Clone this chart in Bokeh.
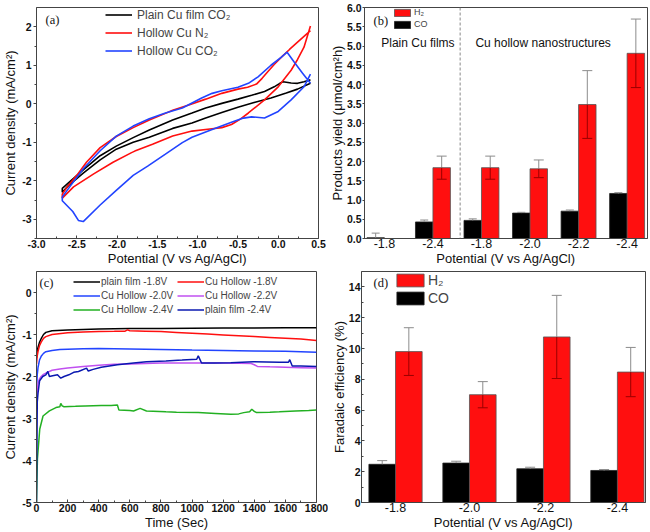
import numpy as np
from bokeh.plotting import figure
from bokeh.models import Range1d, FixedTicker, Legend, LegendItem, Label, Span
from bokeh.layouts import column, row
from bokeh.embed import file_html
from bokeh.resources import INLINE

# ---------------- Panel (a): cyclic voltammograms ----------------
cv_plain_co2_x = [0.40, 0.32, 0.24, 0.16, 0.10, 0.06, 0.02, -0.05, -0.17, -0.33, -0.50, -0.70, -0.90, -1.07,
                  -1.31, -1.60, -1.80, -2.01, -2.21, -2.42, -2.60, -2.68, -2.68, -2.60, -2.42, -2.21, -2.01,
                  -1.80, -1.60, -1.31, -1.07, -0.90, -0.70, -0.50, -0.30, -0.09, 0.10, 0.24, 0.40]
cv_plain_co2_y = [0.62, 0.57, 0.53, 0.54, 0.56, 0.57, 0.53, 0.44, 0.32, 0.22, 0.12, 0.01, -0.11, -0.24,
                  -0.42, -0.68, -0.88, -1.10, -1.35, -1.72, -2.05, -2.20, -2.30, -2.12, -1.80, -1.46, -1.18,
                  -1.00, -0.87, -0.64, -0.50, -0.37, -0.23, -0.09, 0.03, 0.15, 0.28, 0.38, 0.53]

cv_hollow_n2_x = [0.40, 0.32, 0.24, 0.14, 0.04, -0.05, -0.13, -0.20, -0.27, -0.38, -0.50, -0.70, -0.90, -1.11,
                  -1.31, -1.40, -1.60, -1.80, -2.01, -2.21, -2.38, -2.50, -2.62, -2.68, -2.68, -2.54, -2.29,
                  -2.05, -1.82, -1.78, -1.56, -1.31, -1.07, -0.82, -0.70, -0.58, -0.47, -0.37, -0.17, 0.00,
                  0.16, 0.24, 0.32, 0.40]
cv_hollow_n2_y = [1.90, 1.75, 1.60, 1.41, 1.21, 1.02, 0.83, 0.66, 0.51, 0.43, 0.38, 0.27, 0.12, -0.03,
                  -0.17, -0.25, -0.42, -0.62, -0.85, -1.14, -1.52, -1.86, -2.16, -2.35, -2.45, -2.16, -1.82,
                  -1.52, -1.27, -1.23, -1.05, -0.84, -0.71, -0.65, -0.62, -0.54, -0.40, -0.24, 0.10, 0.44,
                  0.87, 1.15, 1.47, 2.02]

cv_hollow_co2_x = [0.40, 0.30, 0.20, 0.11, 0.04, -0.09, -0.25, -0.37, -0.50, -0.70, -0.82, -0.95, -1.07, -1.19,
                   -1.40, -1.60, -1.80, -2.01, -2.21, -2.42, -2.62, -2.68, -2.68, -2.55, -2.48, -2.42, -2.21,
                   -2.01, -1.80, -1.62, -1.40, -1.19, -1.07, -0.82, -0.58, -0.45, -0.33, -0.17, 0.00, 0.16,
                   0.32, 0.40]
cv_hollow_co2_y = [0.53, 0.80, 1.08, 1.34, 1.21, 1.00, 0.70, 0.53, 0.43, 0.34, 0.27, 0.15, 0.02, -0.11,
                   -0.24, -0.39, -0.58, -0.84, -1.22, -1.69, -2.25, -2.42, -2.52, -2.80, -3.03, -3.06, -2.63,
                   -2.25, -1.86, -1.62, -1.31, -1.01, -0.87, -0.67, -0.48, -0.38, -0.34, -0.37, -0.20, 0.10,
                   0.44, 0.77]

a_xticks = [-3.0, -2.5, -2.0, -1.5, -1.0, -0.5, 0.0, 0.5]
a_xtick_labels = ["-3.0", "-2.5", "-2.0", "-1.5", "-1.0", "-0.5", "0.0", "0.5"]
a_xminor = [-2.75, -2.25, -1.75, -1.25, -0.75, -0.25, 0.25]
a_yticks = [-3, -2, -1, 0, 1, 2]
a_ytick_labels = ["-3", "-2", "-1", "0", "1", "2"]
a_yminor = [-3.5, -2.5, -1.5, -0.5, 0.5, 1.5]

# ---------------- Panel (b): product yield ----------------
b_groups = [0, 1, 2, 3, 4, 5]
b_tick_labels = ["-1.8", "-2.4", "-1.8", "-2.0", "-2.2", "-2.4"]
b_co = [0.02, 0.43, 0.47, 0.66, 0.71, 1.17]
b_co_err = [0.12, 0.05, 0.04, 0.02, 0.03, 0.02]
b_h2 = [np.nan, 1.84, 1.84, 1.81, 3.48, 4.81]
b_h2_err = [np.nan, 0.30, 0.30, 0.23, 0.88, 0.89]
b_yticks = [0.0, 0.5, 1.0, 1.5, 2.0, 2.5, 3.0, 3.5, 4.0, 4.5, 5.0, 5.5, 6.0]
b_ytick_labels = ["0.0", "0.5", "1.0", "1.5", "2.0", "2.5", "3.0", "3.5", "4.0", "4.5", "5.0", "5.5", "6.0"]

# ---------------- Panel (c): chronoamperometry ----------------
plain_18_t = [0, 5, 10, 20, 30, 45, 60, 100, 200, 400, 600, 800, 1000, 1200, 1400, 1600, 1800]
plain_18_j = [-1.55, -1.38, -1.30, -1.18, -1.10, -1.00, -0.95, -0.91, -0.89, -0.87, -0.86, -0.855, -0.85,
              -0.845, -0.845, -0.84, -0.84]
hollow_18_t = [0, 5, 10, 20, 30, 45, 60, 100, 200, 300, 400, 500, 570, 585, 600, 700, 800, 900, 1000, 1100,
               1200, 1300, 1400, 1500, 1600, 1700, 1800]
hollow_18_j = [-1.70, -1.50, -1.40, -1.26, -1.18, -1.09, -1.05, -1.00, -0.96, -0.94, -0.93, -0.925, -0.92,
               -0.89, -0.91, -0.92, -0.93, -0.95, -0.97, -0.99, -1.01, -1.03, -1.05, -1.07, -1.09, -1.11, -1.14]
hollow_20_t = [0, 5, 10, 20, 30, 45, 60, 100, 150, 200, 300, 400, 600, 800, 1000, 1200, 1400, 1600, 1800]
hollow_20_j = [-2.30, -1.95, -1.78, -1.60, -1.52, -1.45, -1.41, -1.38, -1.36, -1.35, -1.34, -1.335, -1.345,
               -1.355, -1.37, -1.38, -1.39, -1.40, -1.42]
hollow_22_t = [0, 5, 10, 20, 30, 45, 60, 100, 150, 200, 300, 400, 500, 600, 700, 800, 900, 1000, 1100, 1200,
               1300, 1380, 1400, 1420, 1500, 1600, 1700, 1800]
hollow_22_j = [-2.90, -2.35, -2.16, -2.05, -2.00, -1.95, -1.92, -1.85, -1.82, -1.80, -1.76, -1.73, -1.71, -1.70,
               -1.69, -1.68, -1.68, -1.68, -1.68, -1.68, -1.685, -1.69, -1.72, -1.76, -1.77, -1.78, -1.79, -1.80]
hollow_24_t = [0, 6, 21, 42, 83, 125, 150, 156, 165, 177, 250, 312, 416, 480, 520, 530, 600, 624, 666, 707,
               832, 900, 1040, 1150, 1249, 1300, 1332, 1370, 1384, 1400, 1415, 1500, 1561, 1665, 1750, 1800]
hollow_24_j = [-5.00, -3.96, -3.25, -2.94, -2.82, -2.74, -2.72, -2.64, -2.70, -2.72, -2.71, -2.70, -2.69, -2.69,
               -2.68, -2.80, -2.81, -2.82, -2.76, -2.82, -2.84, -2.85, -2.86, -2.88, -2.90, -2.89, -2.86, -2.84,
               -2.78, -2.83, -2.86, -2.85, -2.84, -2.82, -2.81, -2.80]
plain_24_t = [0, 5, 10, 20, 40, 60, 73, 83, 104, 135, 156, 177, 208, 239, 270, 322, 333, 364, 416, 520, 624,
              707, 832, 936, 1030, 1040, 1061, 1145, 1249, 1394, 1561, 1620, 1628, 1644, 1700, 1800]
plain_24_j = [-5.00, -2.60, -2.39, -2.10, -2.00, -1.96, -1.88, -2.00, -1.98, -1.96, -2.04, -2.00, -1.96, -1.90,
              -1.88, -1.80, -1.87, -1.83, -1.78, -1.72, -1.68, -1.65, -1.63, -1.61, -1.59, -1.51, -1.68, -1.68,
              -1.67, -1.65, -1.66, -1.66, -1.60, -1.75, -1.75, -1.76]
c_xticks = [0, 200, 400, 600, 800, 1000, 1200, 1400, 1600, 1800]
c_xtick_labels = ["0", "200", "400", "600", "800", "1000", "1200", "1400", "1600", "1800"]
c_xminor = [100, 300, 500, 700, 900, 1100, 1300, 1500, 1700]
c_yticks = [-5, -4, -3, -2, -1, 0]
c_ytick_labels = ["-5", "-4", "-3", "-2", "-1", "0"]
c_yminor = [-4.5, -3.5, -2.5, -1.5, -0.5]

# ---------------- Panel (d): Faradaic efficiency ----------------
d_groups = [0, 1, 2, 3]
d_tick_labels = ["-1.8", "-2.0", "-2.2", "-2.4"]
d_co = [2.48, 2.56, 2.19, 2.08]
d_co_err = [0.24, 0.12, 0.10, 0.06]
d_h2 = [9.80, 7.00, 10.75, 8.47]
d_h2_err = [1.55, 0.85, 2.70, 1.60]
d_yticks = [0, 2, 4, 6, 8, 10, 12, 14]
d_ytick_labels = ["0", "2", "4", "6", "8", "10", "12", "14"]
d_yminor = [1, 3, 5, 7, 9, 11, 13]

FONT = "Liberation Sans"
SERIF = "Liberation Serif"
AX = "#444444"
RED = "#ff0f0f"
BLUE = "#2244ff"


def make_fig(width, height, xr, yr, left, right, top, bottom, xlabel, ylabel):
    p = figure(width=width, height=height, x_range=Range1d(*xr), y_range=Range1d(*yr),
               output_backend="svg", toolbar_location=None,
               min_border_left=left, min_border_right=right, min_border_top=top, min_border_bottom=bottom,
               x_axis_label=xlabel, y_axis_label=ylabel)
    p.outline_line_color = AX
    p.outline_line_width = 1
    p.xgrid.visible = False
    p.ygrid.visible = False
    for ax in (p.xaxis[0], p.yaxis[0]):
        ax.axis_line_color = AX
        ax.major_tick_line_color = AX
        ax.minor_tick_line_color = AX
        ax.major_label_text_font = FONT
        ax.major_label_text_font_size = "10.5px"
        ax.major_label_text_font_style = "bold"
        ax.major_label_text_color = "#111111"
        ax.axis_label_text_font = FONT
        ax.axis_label_text_font_size = "13px"
        ax.axis_label_text_font_style = "normal"
        ax.axis_label_text_color = "#111111"
    xa = p.xaxis[0]
    xa.major_tick_in = 3
    xa.major_tick_out = 0
    xa.minor_tick_in = 2
    xa.minor_tick_out = 0
    xa.major_label_standoff = 1
    xa.axis_label_standoff = 0
    ya = p.yaxis[0]
    ya.major_tick_in = 0
    ya.major_tick_out = 3
    ya.minor_tick_in = 0
    ya.minor_tick_out = 2
    ya.major_label_standoff = 2
    ya.axis_label_standoff = 1
    return p


def set_ticks(axis, ticks, labels, minor=None):
    axis.ticker = FixedTicker(ticks=ticks, minor_ticks=minor or [])
    axis.major_label_overrides = {t: l for t, l in zip(ticks, labels)}


def panel_tag(p, text, x, y):
    p.add_layout(Label(x=x, y=y, x_units="screen", y_units="screen", text=text,
                       text_font=SERIF, text_font_size="12.5px", text_baseline="middle",
                       text_color="#111111"))


# ---------------- (a) ----------------
pa = make_fig(326, 268, (-3.0, 0.5), (-3.5, 2.5), 33, 8, 7, 28,
              "Potential (V vs Ag/AgCl)", "Current density (mA/cm²)")
set_ticks(pa.xaxis[0], a_xticks, a_xtick_labels, a_xminor)
set_ticks(pa.yaxis[0], a_yticks, a_ytick_labels, a_yminor)
ra1 = pa.line(cv_plain_co2_x, cv_plain_co2_y, line_color="black", line_width=1.6)
ra2 = pa.line(cv_hollow_n2_x, cv_hollow_n2_y, line_color=RED, line_width=1.6)
ra3 = pa.line(cv_hollow_co2_x, cv_hollow_co2_y, line_color=BLUE, line_width=1.6)
leg_a = Legend(items=[LegendItem(label="Plain Cu film CO₂", renderers=[ra1]),
                      LegendItem(label="Hollow Cu N₂", renderers=[ra2]),
                      LegendItem(label="Hollow Cu CO₂", renderers=[ra3])],
               location=(69, 179), padding=0, margin=0, spacing=1, label_height=17, glyph_height=17,
               glyph_width=27, label_standoff=5, label_text_font=FONT, label_text_font_size="12px",
               background_fill_alpha=0, border_line_alpha=0)
pa.add_layout(leg_a)
panel_tag(pa, "(a)", 9, 219)

# ---------------- (b) ----------------
bw = 0.36
pb = make_fig(324, 268, (-0.41, 5.42), (0, 6.0), 31, 3, 5, 28,
              "Potential (V vs Ag/AgCl)", "Products yield (μmol/cm²h)")
set_ticks(pb.xaxis[0], b_groups, b_tick_labels)
set_ticks(pb.yaxis[0], b_yticks, b_ytick_labels)
pb.xaxis[0].major_tick_in = 0
pb.xaxis[0].minor_tick_in = 0
pb.xaxis[0].major_label_text_font_style = "normal"
pb.xaxis[0].major_label_text_font_size = "12.5px"
pb.xaxis[0].major_label_standoff = 0
pb.yaxis[0].major_tick_out = 2
pb.yaxis[0].major_label_standoff = 1
pb.yaxis[0].axis_label_standoff = -1

pb.add_layout(Span(location=1.56, dimension="height", line_color="#888888", line_dash="3 2", line_width=1))

bg = np.array(b_groups, dtype=float)
bco = np.array(b_co)
bcoe = np.array(b_co_err)
bh = np.array(b_h2)
bhe = np.array(b_h2_err)
x_co = bg - bw / 2
x_h2 = bg + bw / 2
rb_co = pb.vbar(x=x_co, top=bco, width=bw, fill_color="black", line_color="#222222", line_width=0.8)
mask = ~np.isnan(bh)
rb_h2 = pb.vbar(x=x_h2[mask], top=bh[mask], width=bw, fill_color=RED, line_color="#555555", line_width=0.8)
# error bars
pb.segment(x0=x_co, y0=bco, x1=x_co, y1=bco + bcoe, line_color="#8c8c8c", line_width=1)
pb.scatter(x=x_co, y=bco + bcoe, marker="dash", size=8, line_color="#8c8c8c", line_width=1)
pb.segment(x0=x_h2[mask], y0=bh[mask], x1=x_h2[mask], y1=(bh + bhe)[mask], line_color="#8c8c8c", line_width=1)
pb.scatter(x=x_h2[mask], y=(bh + bhe)[mask], marker="dash", size=10, line_color="#8c8c8c", line_width=1)
pb.segment(x0=x_h2[mask], y0=(bh - bhe)[mask], x1=x_h2[mask], y1=bh[mask], line_color="#9a0000", line_width=1)
pb.scatter(x=x_h2[mask], y=(bh - bhe)[mask], marker="dash", size=10, line_color="#9a0000", line_width=1)

leg_b = Legend(items=[LegendItem(label="H₂", renderers=[rb_h2]),
                      LegendItem(label="CO", renderers=[rb_co])],
               location=(28, 209), padding=0, margin=0, spacing=2, label_height=10, glyph_height=9,
               glyph_width=20, label_standoff=2, label_text_font=FONT, label_text_font_size="9px",
               background_fill_alpha=0, border_line_alpha=0)
pb.add_layout(leg_b)
panel_tag(pb, "(b)", 9, 218)
pb.add_layout(Label(x=0.69, y=5.08, text="Plain Cu films", text_font=FONT, text_font_size="12px",
                    text_align="center", text_baseline="middle", text_color="#111111"))
pb.add_layout(Label(x=3.27, y=5.08, text="Cu hollow nanostructures", text_font=FONT, text_font_size="12px",
                    text_align="center", text_baseline="middle", text_color="#111111"))

# ---------------- (c) ----------------
pc = make_fig(328, 264, (0, 1800), (-5, 0.5), 33, 12, 3, 28,
              "Time (Sec)", "Current density (mA/cm²)")
set_ticks(pc.xaxis[0], c_xticks, c_xtick_labels, c_xminor)
set_ticks(pc.yaxis[0], c_yticks, c_ytick_labels, c_yminor)
rc1 = pc.line(plain_18_t, plain_18_j, line_color="black", line_width=1.5)
rc2 = pc.line(hollow_18_t, hollow_18_j, line_color=RED, line_width=1.5)
rc3 = pc.line(hollow_20_t, hollow_20_j, line_color=BLUE, line_width=1.5)
rc4 = pc.line(hollow_22_t, hollow_22_j, line_color="#c050f0", line_width=1.5)
rc5 = pc.line(hollow_24_t, hollow_24_j, line_color="#22b022", line_width=1.5)
rc6 = pc.line(plain_24_t, plain_24_j, line_color="#0a18b0", line_width=1.5)
common_c = dict(padding=0, margin=0, spacing=1, label_height=13, glyph_height=13, glyph_width=27,
                label_standoff=1, label_text_font=FONT, label_text_font_size="10px",
                background_fill_alpha=0, border_line_alpha=0)
leg_c1 = Legend(items=[LegendItem(label="plain film -1.8V", renderers=[rc1]),
                       LegendItem(label="Cu Hollow -2.0V", renderers=[rc3]),
                       LegendItem(label="Cu Hollow -2.4V", renderers=[rc5])],
                location=(37, 186), **common_c)
leg_c2 = Legend(items=[LegendItem(label="Cu Hollow -1.8V", renderers=[rc2]),
                       LegendItem(label="Cu Hollow -2.2V", renderers=[rc4]),
                       LegendItem(label="plain film -2.4V", renderers=[rc6])],
                location=(141, 186), **common_c)
pc.add_layout(leg_c1)
pc.add_layout(leg_c2)
panel_tag(pc, "(c)", 3, 220)

# ---------------- (d) ----------------
dw = 0.36
pd = make_fig(322, 264, (-0.46, 3.38), (0, 15), 25, 5, 3, 28,
              "Potential (V vs Ag/AgCl)", "Faradaic efficiency (%)")
set_ticks(pd.xaxis[0], d_groups, d_tick_labels)
set_ticks(pd.yaxis[0], d_yticks, d_ytick_labels, d_yminor)
pd.xaxis[0].major_tick_in = 0
pd.xaxis[0].minor_tick_in = 0
pd.xaxis[0].major_label_text_font_style = "normal"
pd.xaxis[0].major_label_text_font_size = "12.5px"
pd.xaxis[0].major_label_standoff = 0
pd.yaxis[0].major_tick_out = 0
pd.yaxis[0].major_tick_in = 3
pd.yaxis[0].minor_tick_out = 0
pd.yaxis[0].minor_tick_in = 2
pd.yaxis[0].major_label_standoff = 1
pd.yaxis[0].axis_label_standoff = -1

dg = np.array(d_groups, dtype=float)
dco = np.array(d_co)
dcoe = np.array(d_co_err)
dh = np.array(d_h2)
dhe = np.array(d_h2_err)
xd_co = dg - dw / 2
xd_h2 = dg + dw / 2
rd_co = pd.vbar(x=xd_co, top=dco, width=dw, fill_color="black", line_color="#222222", line_width=0.8)
rd_h2 = pd.vbar(x=xd_h2, top=dh, width=dw, fill_color=RED, line_color="#555555", line_width=0.8)
pd.segment(x0=xd_co, y0=dco, x1=xd_co, y1=dco + dcoe, line_color="#8c8c8c", line_width=1)
pd.scatter(x=xd_co, y=dco + dcoe, marker="dash", size=10, line_color="#8c8c8c", line_width=1)
pd.segment(x0=xd_h2, y0=dh, x1=xd_h2, y1=dh + dhe, line_color="#8c8c8c", line_width=1)
pd.scatter(x=xd_h2, y=dh + dhe, marker="dash", size=10, line_color="#8c8c8c", line_width=1)
pd.segment(x0=xd_h2, y0=dh - dhe, x1=xd_h2, y1=dh, line_color="#9a0000", line_width=1)
pd.scatter(x=xd_h2, y=dh - dhe, marker="dash", size=10, line_color="#9a0000", line_width=1)

leg_d = Legend(items=[LegendItem(label="H₂", renderers=[rd_h2]),
                      LegendItem(label="CO", renderers=[rd_co])],
               location=(32, 196), padding=0, margin=0, spacing=2, label_height=16, glyph_height=16,
               glyph_width=34, label_standoff=1, label_text_font=FONT, label_text_font_size="14px",
               background_fill_alpha=0, border_line_alpha=0)
pd.add_layout(leg_d)
panel_tag(pd, "(d)", 12, 220)

layout = column(row(pa, pb), row(pc, pd))
html = file_html(layout, INLINE, "Cu hollow nanostructures")
open("out.html", "w").write(html)
